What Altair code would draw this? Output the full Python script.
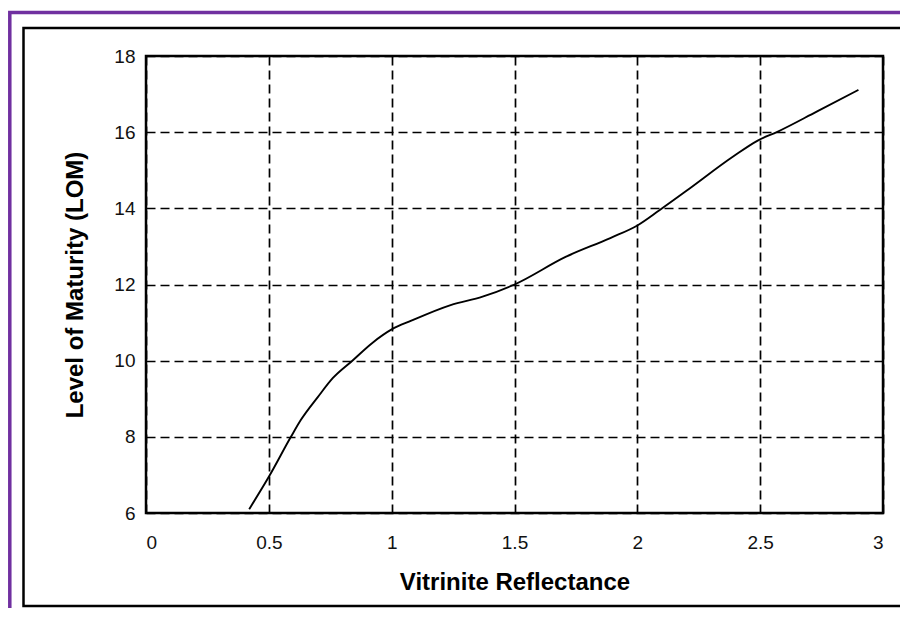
import altair as alt
import pandas as pd

# Data
vitrinite = [0.42, 0.50, 0.59, 0.63, 0.70, 0.76, 0.84, 0.92, 1.00, 1.08, 1.24,
             1.37, 1.50, 1.71, 1.89, 2.00, 2.09, 2.20, 2.39, 2.49, 2.57, 2.73, 2.90]
lom = [6.10, 6.95, 8.00, 8.44, 9.05, 9.54, 10.00, 10.46, 10.82, 11.05, 11.46,
       11.68, 12.00, 12.73, 13.22, 13.55, 13.95, 14.46, 15.36, 15.78, 16.01, 16.54, 17.11]
x_ticks = [0, 0.5, 1, 1.5, 2, 2.5, 3]
y_ticks = [6, 8, 10, 12, 14, 16, 18]

df = pd.DataFrame({"vr": vitrinite, "lom": lom})

W, H = 737, 457
FONT = "Liberation Sans"

line = alt.Chart(df).mark_line(color="black", strokeWidth=1.9, interpolate="monotone").encode(
    x=alt.X("vr:Q",
            scale=alt.Scale(domain=[0, 3], nice=False, zero=False),
            axis=alt.Axis(values=x_ticks, title="Vitrinite Reflectance",
                          labelExpr="datum.value == 0 ? '0' : format(datum.value, '.2~f')",
                          labelPadding=20, titlePadding=18)),
    y=alt.Y("lom:Q",
            scale=alt.Scale(domain=[6, 18], nice=False, zero=False),
            axis=alt.Axis(values=y_ticks, title="Level of Maturity (LOM)",
                          labelPadding=11, titlePadding=26)),
)

frame_data = alt.Data(values=[{"k": 1}])
purple = alt.Chart(frame_data).mark_rect(fill=None, stroke="#7030a0", strokeWidth=3.5).encode(
    x=alt.value(-136.2), x2=alt.value(800), y=alt.value(-43.5), y2=alt.value(700)
)
black = alt.Chart(frame_data).mark_rect(fill=None, stroke="black", strokeWidth=2.5).encode(
    x=alt.value(-122.5), x2=alt.value(800), y=alt.value(-28), y2=alt.value(550)
)

chart = alt.layer(purple, black, line).properties(
    width=W, height=H,
    background="white",
    autosize=alt.AutoSizeParams(type="none"),
    padding={"left": 138, "top": 48, "right": 17, "bottom": 95},
).configure_view(
    stroke="black", strokeWidth=2.5
).configure_axis(
    grid=True, gridColor="black", gridDash=[9, 5], gridWidth=1.7, gridOpacity=1,
    domain=False, ticks=False,
    labelFont=FONT, labelFontSize=19, labelColor="#111",
    titleFont=FONT, titleFontSize=24, titleFontWeight="bold", titleColor="black",
)

chart.save("out.html", embed_options={"renderer": "svg", "actions": False})
